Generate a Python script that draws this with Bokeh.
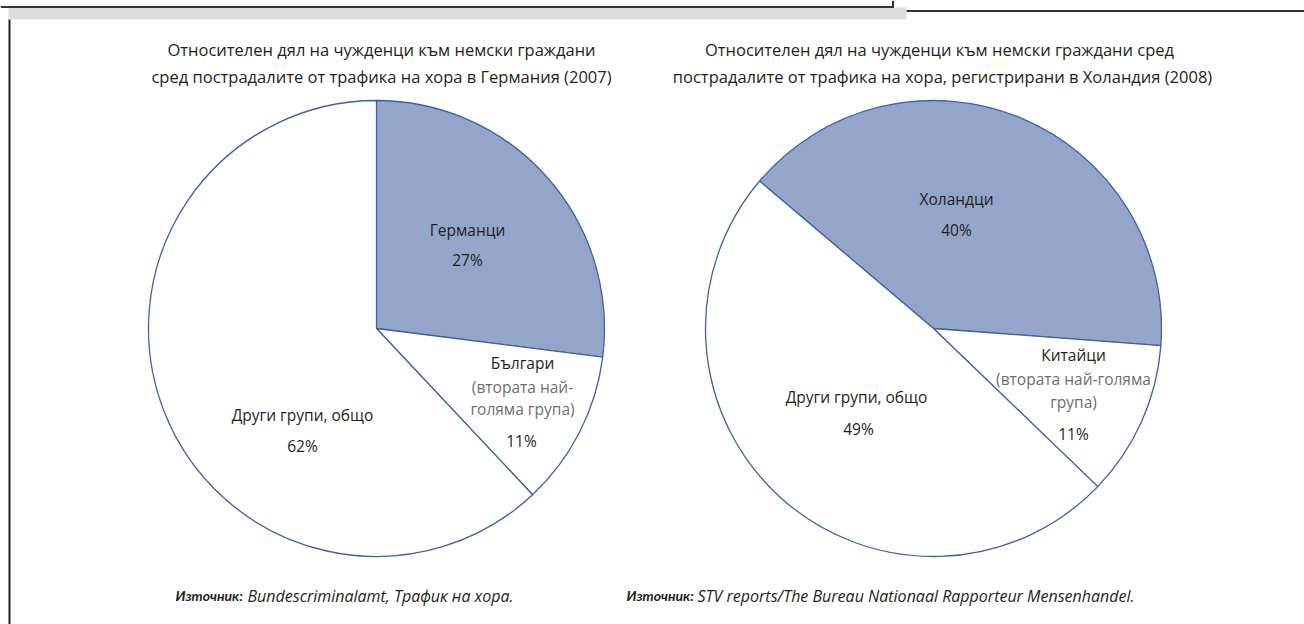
import math
from bokeh.plotting import figure
from bokeh.models import Range1d, ColumnDataSource
from bokeh.core.properties import value
from bokeh.embed import file_html
from bokeh.resources import INLINE

# ---------------- data ----------------
de_title = ["Относителен дял на чужденци към немски граждани",
            "сред пострадалите от трафика на хора в Германия (2007)"]
de_labels = ["Германци", "Българи", "Други групи, общо"]
de_values = [27, 11, 62]
de_notes = ["", "(втората най-\nголяма група)", ""]
de_source = "Bundescriminalamt, Трафик на хора."

nl_title = ["Относителен дял на чужденци към немски граждани сред",
            "пострадалите от трафика на хора, регистрирани в Холандия (2008)"]
nl_labels = ["Холандци", "Китайци", "Други групи, общо"]
nl_values = [40, 11, 49]
nl_notes = ["", "(втората най-голяма\nгрупа)", ""]
nl_source = "STV reports/The Bureau Nationaal Rapporteur Mensenhandel."

source_word = "Източник:"

# ---------------- style ----------------
W, H = 1304, 624
FILL = "#94a5c9"
EDGE = "#3d63a3"
TXT = "#231f20"
GREY = "#6d6e71"
FONT = "Open Sans"


def Y(sy):
    return H - sy  # screen y -> data y (y up)


p = figure(width=W, height=H, output_backend="svg", toolbar_location=None,
           x_range=Range1d(0, W), y_range=Range1d(0, H),
           min_border=0, outline_line_color=None)
p.axis.visible = False
p.grid.visible = False
p.background_fill_color = "white"
p.border_fill_color = "white"

# frame decorations
p.quad(left=[8], right=[906], top=[Y(7)], bottom=[Y(19)], fill_color="#dcdddf", line_color=None)
p.segment(x0=[0], y0=[Y(6.5)], x1=[893], y1=[Y(6.5)], line_color="#333333", line_width=2)
p.segment(x0=[892.5], y0=[Y(0)], x1=[892.5], y1=[Y(7.5)], line_color="#333333", line_width=2)
p.segment(x0=[906], y0=[Y(10.5)], x1=[1304], y1=[Y(10.5)], line_color="#333333", line_width=2)
p.segment(x0=[9], y0=[Y(19)], x1=[9], y1=[Y(624)], line_color="#231f20", line_width=2)


def pie(cx, cy, r, values, start_deg, fills):
    total = float(sum(values))
    starts, ends = [], []
    cum = 0.0
    for v in values:
        a0 = start_deg - cum / total * 360.0
        cum += v
        a1 = start_deg - cum / total * 360.0
        starts.append(math.radians(a1))
        ends.append(math.radians(a0))
    src = ColumnDataSource(dict(x=[cx] * len(values), y=[Y(cy)] * len(values),
                                start=starts, end=ends, fill=fills))
    p.wedge(x="x", y="y", radius=r, start_angle="start", end_angle="end",
            fill_color="fill", line_color=EDGE, line_width=1.3, source=src)


pie(376, 328, 228, de_values, 90.0, [FILL, "white", "white"])
pie(933, 328, 228, nl_values, 139.7, [FILL, "white", "white"])


def txt(x, sy, s, size="15.5px", color=TXT, font=FONT, style="normal", align="center"):
    p.text(x=[x], y=[Y(sy)], text=[s], text_font=value(font), text_font_size=size,
           text_color=color, text_align=align, text_baseline="middle", text_font_style=style)


# titles
TS = "16.5px"
txt(381, 49, de_title[0], size=TS)
txt(381, 76, de_title[1], size=TS)
txt(939, 49, nl_title[0], size=TS)
txt(942, 76, nl_title[1], size=TS)

# pie 1 labels
txt(467, 229, de_labels[0])
txt(467, 259, f"{de_values[0]}%")
txt(522, 362, de_labels[1])
n1 = de_notes[1].split("\n")
txt(522, 386, n1[0], color=GREY)
txt(522, 408, n1[1], color=GREY)
txt(521, 440, f"{de_values[1]}%")
txt(302, 414, de_labels[2])
txt(302, 445, f"{de_values[2]}%")

# pie 2 labels
txt(956, 198, nl_labels[0])
txt(956, 229, f"{nl_values[0]}%")
txt(1073, 354, nl_labels[1])
n2 = nl_notes[1].split("\n")
txt(1073, 378, n2[0], color=GREY)
txt(1073, 401, n2[1], color=GREY)
txt(1073, 433, f"{nl_values[1]}%")
txt(856, 396, nl_labels[2])
txt(858, 428, f"{nl_values[2]}%")

# sources
BS = "14px"
SS = "16px"
txt(175, 595, source_word, size=BS, font="Lato", style="bold italic", align="left")
txt(247, 595, de_source, size=SS, style="italic", align="left")
txt(626, 595, source_word, size=BS, font="Lato", style="bold italic", align="left")
txt(697, 595, nl_source, size=SS, style="italic", align="left")

open("out.html", "w").write(file_html(p, INLINE))
